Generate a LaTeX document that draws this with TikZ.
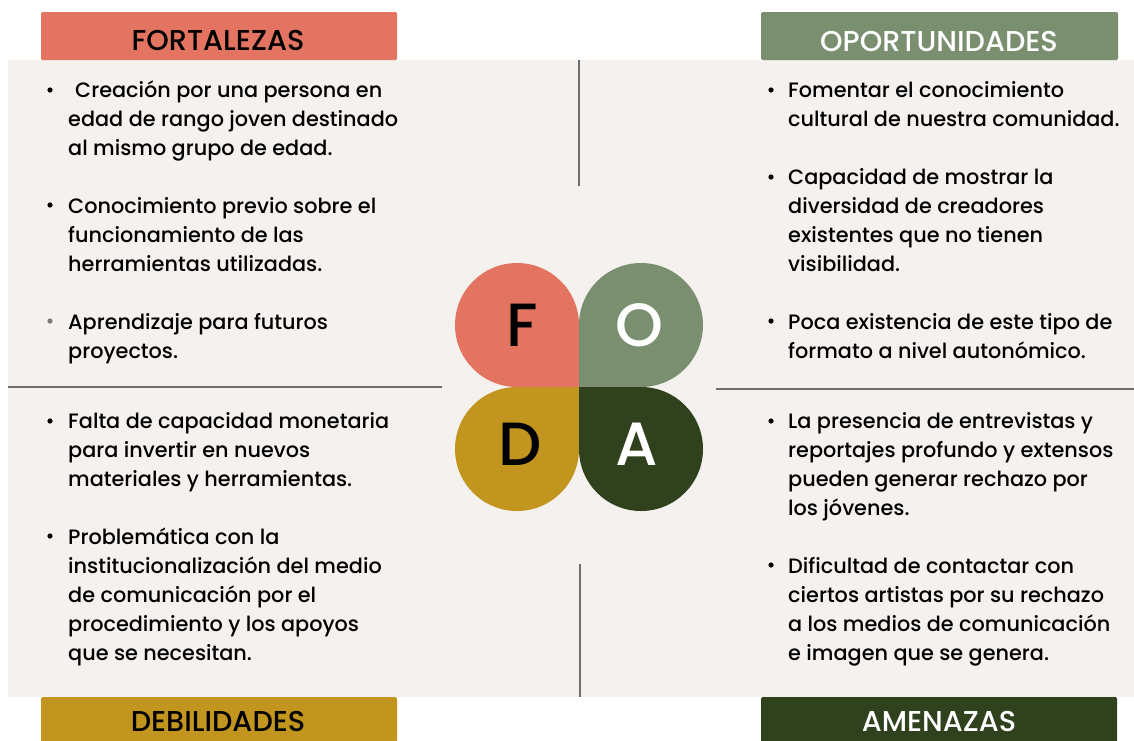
\documentclass[tikz,border=0pt]{standalone}
\usepackage{fontspec}
\setmainfont{Poppins}[UprightFont=* Medium]
\definecolor{salmon}{HTML}{E37461}
\definecolor{sage}{HTML}{7A8F6F}
\definecolor{mustard}{HTML}{C2951F}
\definecolor{forest}{HTML}{2F411D}
\definecolor{panel}{HTML}{F4F1EE}
\definecolor{sepgray}{HTML}{6E6E6E}
\definecolor{dotgray}{HTML}{7A7A7A}
\tikzset{
  hdrbox/.style={draw=none, inner sep=0, minimum height=48pt, minimum width=356pt, rounded corners=1.5pt},
  hdrtext/.style={inner sep=0, anchor=base, font=\fontsize{28.7}{30}\selectfont},
  body/.style={inner sep=0, anchor=north west, align=left, font=\fontsize{20.8}{29}\selectfont},
  letter/.style={inner sep=0, anchor=base, font=\fontsize{61}{61}\selectfont},
  sepline/.style={draw=sepgray, line width=2pt},
  bul/.style={fill=black},
}
\newcommand{\fs}{\rule{0pt}{24pt}}
\begin{document}
\begin{tikzpicture}[x=1pt,y=-1pt]
\useasboundingbox (0,0) rectangle (1134,740);
\fill[white] (0,0) rectangle (1134,740);
\fill[panel] (8,60) rectangle (1134,697);

% headers
\node[hdrbox, fill=salmon] (bF) at (219,36) {};
\node[hdrtext, text=black] (tF) at (218,50) {FORTALEZAS};
\node[hdrbox, fill=sage, minimum width=357pt] (bO) at (939.5,36) {};
\node[hdrtext, text=white] (tO) at (939,51) {OPORTUNIDADES};
\node[hdrbox, fill=mustard, minimum height=60pt] (bD) at (219,727) {};
\node[hdrtext, text=black] (tD) at (218,731) {DEBILIDADES};
\node[hdrbox, fill=forest, minimum height=60pt] (bA) at (939,727) {};
\node[hdrtext, text=white] (tA) at (939,731) {AMENAZAS};

% separators
\coordinate (vt1) at (579,60);
\coordinate (vt2) at (579,186);
\coordinate (vb1) at (580,564);
\coordinate (vb2) at (580,697);
\coordinate (hl1) at (8,387);
\coordinate (hl2) at (442,387);
\coordinate (hr1) at (716,389);
\coordinate (hr2) at (1134,389);
\draw[sepline] (vt1) -- (vt2);
\draw[sepline] (vb1) -- (vb2);
\draw[sepline] (hl1) -- (hl2);
\draw[sepline] (hr1) -- (hr2);

% clover
\fill[salmon] (517,325) circle (62);
\fill[salmon] (517,325) rectangle (579,387);
\fill[sage] (641,325) circle (62);
\fill[sage] (579,325) rectangle (641,387);
\fill[mustard] (517,449) circle (62);
\fill[mustard] (517,387) rectangle (579,449);
\fill[forest] (641,449) circle (62);
\fill[forest] (579,387) rectangle (641,449);
\node[letter, text=black] (lF) at (522,346) {F};
\node[letter, text=white] (lO) at (639,346) {O};
\node[letter, text=black] (lD) at (520,465) {D};
\node[letter, text=white] (lA) at (637,465) {A};

% bullets
\fill[bul] (50,90) circle (2.6);
\fill[bul] (50,205) circle (2.6);
\fill[dotgray] (50,321) circle (2.6);
\fill[bul] (50,421) circle (2.6);
\fill[bul] (50,536) circle (2.6);
\fill[bul] (771,90) circle (2.6);
\fill[bul] (771,177) circle (2.6);
\fill[bul] (771,321) circle (2.6);
\fill[bul] (771,421) circle (2.6);
\fill[bul] (771,565) circle (2.6);

% texts
\node[body] (xF) at (68,73) {\fs\hspace{7pt}Creación por una persona en\\
edad de rango joven destinado\\
al mismo grupo de edad.\\[29pt]
Conocimiento previo sobre el\\
funcionamiento de las\\
herramientas utilizadas.\\[29pt]
Aprendizaje para futuros\\
proyectos.};

\node[body] (xO) at (788,73) {\fs Fomentar el conocimiento\\
cultural de nuestra comunidad.\\[29pt]
Capacidad de mostrar la\\
diversidad de creadores\\
existentes que no tienen\\
visibilidad.\\[29pt]
Poca existencia de este tipo de\\
formato a nivel autonómico.};

\node[body] (xD) at (68,404) {\fs Falta de capacidad monetaria\\
para invertir en nuevos\\
materiales y herramientas.\\[29pt]
Problemática con la\\
institucionalización del medio\\
de comunicación por el\\
procedimiento y los apoyos\\
que se necesitan.};

\node[body] (xA) at (788,404) {\fs La presencia de entrevistas y\\
reportajes profundo y extensos\\
pueden generar rechazo por\\
los jóvenes.\\[29pt]
Dificultad de contactar con\\
ciertos artistas por su rechazo\\
a los medios de comunicación\\
e imagen que se genera.};
\end{tikzpicture}
\end{document}
